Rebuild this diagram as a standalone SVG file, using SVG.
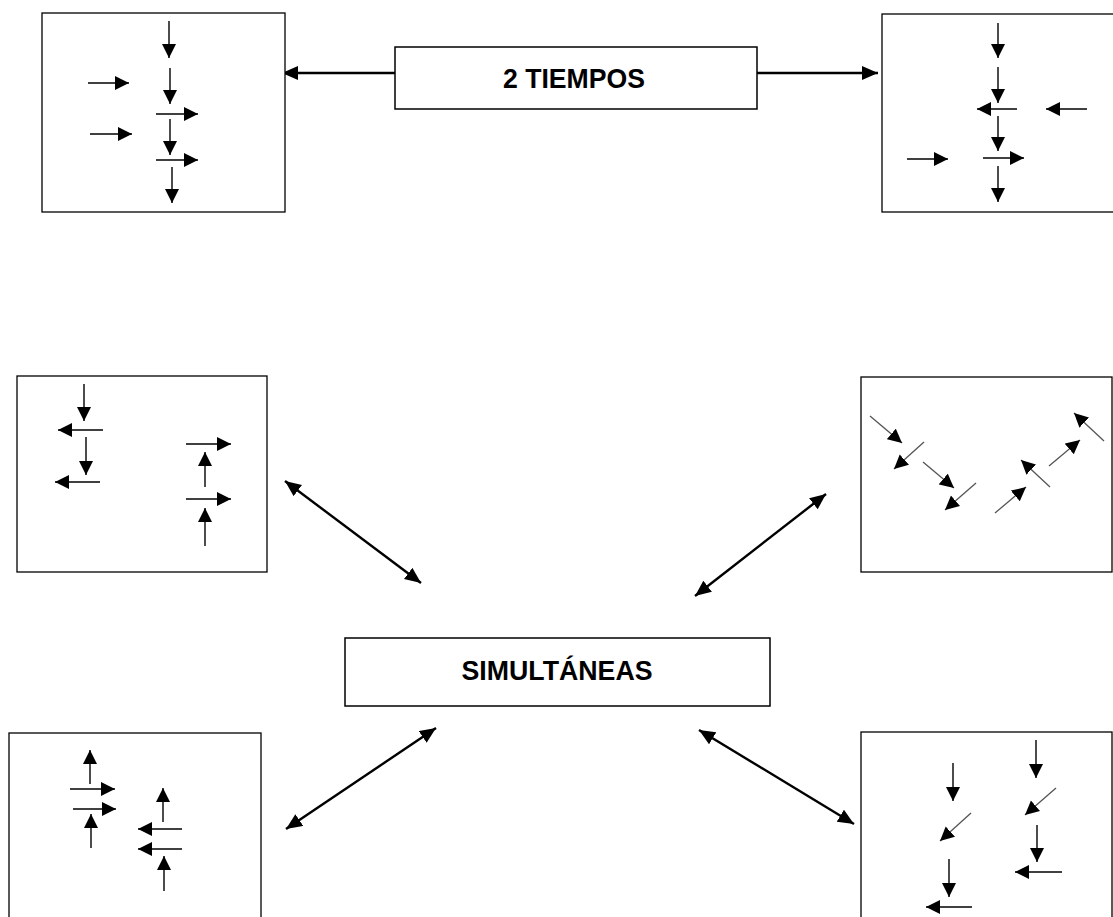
<svg xmlns="http://www.w3.org/2000/svg" width="1113" height="917" viewBox="0 0 1113 917">
<style>
.box{fill:#fff;stroke:#000;stroke-width:1.3}
.lbl{fill:#fff;stroke:#000;stroke-width:1.5}
.t{font-family:"Liberation Sans",Arial,sans-serif;font-weight:bold;font-size:28.5px;fill:#000;text-anchor:middle}
.a{stroke:#000;stroke-width:1.4;fill:none;marker-end:url(#h)}
.g{stroke:#555;stroke-width:1.3;fill:none;marker-end:url(#h)}
.c{stroke:#000;stroke-width:2.4;fill:none;marker-end:url(#H)}
.d{stroke:#000;stroke-width:2.4;fill:none;marker-start:url(#H);marker-end:url(#H)}
</style>
<defs>
<marker id="h" markerUnits="userSpaceOnUse" markerWidth="15" markerHeight="15" refX="14" refY="7" orient="auto">
<path d="M0,0 L14,7 L0,14 Z" fill="#000"/>
</marker>
<marker id="H" markerUnits="userSpaceOnUse" markerWidth="17" markerHeight="15" refX="16" refY="7" orient="auto-start-reverse">
<path d="M0,0 L16,7 L0,14 Z" fill="#000"/>
</marker>
</defs>

<g id="connectors">
<line class="c" x1="395" y1="73" x2="282" y2="73"/>
<line class="c" x1="757" y1="73" x2="878" y2="73"/>
<line class="d" x1="285" y1="481" x2="421" y2="583"/>
<line class="d" x1="826" y1="494" x2="695" y2="596"/>
<line class="d" x1="286" y1="829" x2="436" y2="728"/>
<line class="d" x1="699" y1="730" x2="854" y2="824"/>
</g>

<g id="label-2tiempos">
<rect class="lbl" x="395" y="47" width="362" height="62"/>
<text class="t" x="574" y="88" textLength="142" lengthAdjust="spacingAndGlyphs">2 TIEMPOS</text>
</g>

<g id="label-simultaneas">
<rect class="lbl" x="345" y="638" width="425" height="68"/>
<text class="t" x="557" y="680" textLength="191" lengthAdjust="spacingAndGlyphs">SIMULTÁNEAS</text>
</g>

<g id="box-top-left">
<rect class="box" x="42" y="13" width="243" height="199"/>
<line class="a" x1="169" y1="21" x2="169" y2="58"/>
<line class="a" x1="170" y1="68" x2="170" y2="104"/>
<line class="a" x1="88" y1="83" x2="129" y2="83"/>
<line class="a" x1="156" y1="114" x2="198" y2="114"/>
<line class="a" x1="170" y1="119" x2="170" y2="155"/>
<line class="a" x1="90" y1="134" x2="132" y2="134"/>
<line class="a" x1="156" y1="160" x2="198" y2="160"/>
<line class="a" x1="172" y1="167" x2="172" y2="203"/>
</g>

<g id="box-top-right">
<rect class="box" x="882" y="14" width="240" height="198"/>
<line class="a" x1="998" y1="23" x2="998" y2="58"/>
<line class="a" x1="998" y1="67" x2="998" y2="103"/>
<line class="a" x1="1017" y1="109" x2="977" y2="109"/>
<line class="a" x1="1087" y1="109" x2="1046" y2="109"/>
<line class="a" x1="998" y1="116" x2="998" y2="151"/>
<line class="a" x1="907" y1="159" x2="948" y2="159"/>
<line class="a" x1="983" y1="158" x2="1024" y2="158"/>
<line class="a" x1="998" y1="166" x2="998" y2="202"/>
</g>

<g id="box-mid-left">
<rect class="box" x="17" y="376" width="250" height="196"/>
<line class="a" x1="84" y1="384" x2="84" y2="421"/>
<line class="a" x1="103" y1="430" x2="58" y2="430"/>
<line class="a" x1="86" y1="437" x2="86" y2="475"/>
<line class="a" x1="100" y1="482" x2="55" y2="482"/>
<line class="a" x1="186" y1="444" x2="231" y2="444"/>
<line class="a" x1="205" y1="487" x2="205" y2="452"/>
<line class="a" x1="186" y1="499" x2="231" y2="499"/>
<line class="a" x1="205" y1="546" x2="205" y2="508"/>
</g>

<g id="box-mid-right">
<rect class="box" x="861" y="377" width="251" height="195"/>
<line class="g" x1="870" y1="416" x2="902" y2="443"/>
<line class="g" x1="924" y1="442" x2="894" y2="469"/>
<line class="g" x1="923" y1="462" x2="954" y2="488"/>
<line class="g" x1="976" y1="483" x2="945" y2="510"/>
<line class="g" x1="995" y1="513" x2="1026" y2="487"/>
<line class="g" x1="1050" y1="487" x2="1021" y2="460"/>
<line class="g" x1="1049" y1="466" x2="1080" y2="440"/>
<line class="g" x1="1104" y1="441" x2="1074" y2="413"/>
</g>

<g id="box-bottom-left">
<rect class="box" x="9" y="733" width="252" height="200"/>
<line class="a" x1="90" y1="784" x2="90" y2="750"/>
<line class="a" x1="70" y1="789" x2="115" y2="789"/>
<line class="a" x1="73" y1="809" x2="116" y2="809"/>
<line class="a" x1="91" y1="848" x2="91" y2="814"/>
<line class="a" x1="163" y1="822" x2="163" y2="788"/>
<line class="a" x1="182" y1="829" x2="138" y2="829"/>
<line class="a" x1="182" y1="849" x2="138" y2="849"/>
<line class="a" x1="164" y1="891" x2="164" y2="856"/>
</g>

<g id="box-bottom-right">
<rect class="box" x="861" y="732" width="251" height="200"/>
<line class="a" x1="953" y1="763" x2="953" y2="801"/>
<line class="a" x1="1036" y1="740" x2="1036" y2="778"/>
<line class="g" x1="1056" y1="788" x2="1025" y2="815"/>
<line class="g" x1="971" y1="813" x2="940" y2="841"/>
<line class="a" x1="1037" y1="825" x2="1037" y2="862"/>
<line class="a" x1="1062" y1="872" x2="1015" y2="872"/>
<line class="a" x1="949" y1="859" x2="949" y2="897"/>
<line class="a" x1="972" y1="907" x2="926" y2="907"/>
</g>
</svg>
